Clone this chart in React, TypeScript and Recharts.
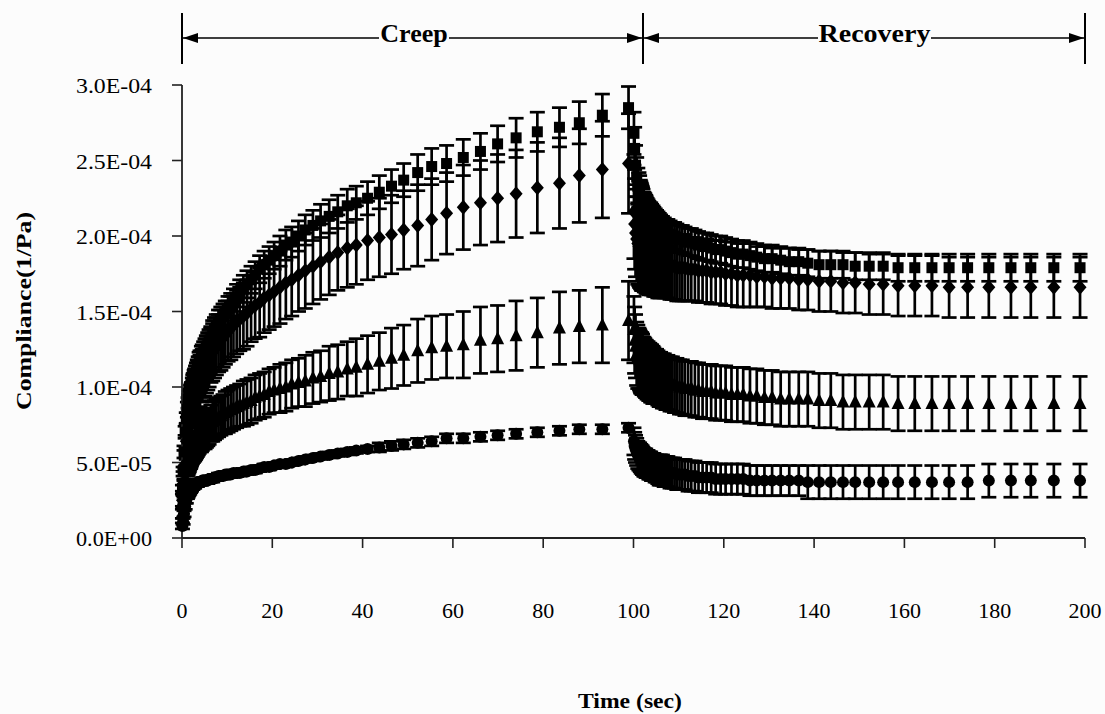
import { ScatterChart, Scatter, XAxis, YAxis, ErrorBar } from 'recharts';

// Sampling times inside each 100 s step (log-spaced acquisition), seconds
const STEP_TIMES = [
  0.1, 0.25, 0.45, 0.7, 0.95, 1.2, 1.35, 1.5, 1.6, 1.7,
  1.8, 1.9, 2.0, 2.1, 2.3, 2.4, 2.5, 2.7, 2.8, 3.0,
  3.2, 3.4, 3.6, 3.8, 4.0, 4.3, 4.5, 4.8, 5.1, 5.4,
  5.7, 6.0, 6.4, 6.8, 7.2, 7.6, 8.1, 8.6, 9.1, 9.6,
  10.2, 10.8, 11.4, 12.1, 12.8, 13.6, 14.4, 15.3, 16.2, 17.2,
  18.2, 19.3, 20.4, 21.7, 23.0, 24.3, 25.8, 27.3, 29.0, 30.7,
  32.6, 34.5, 36.6, 38.6, 41.1, 43.7, 46.4, 49.1, 52.2, 55.3,
  58.6, 62.3, 66.1, 69.9, 74.0, 78.7, 83.6, 88.0, 93.1, 98.9,
];
const RECOVERY_START = 100;

// Compliance, in units of 1E-04 1/Pa (mean and standard deviation)
const SQUARE_CREEP = [
  0.32, 0.44, 0.57, 0.70, 0.79, 0.85, 0.88, 0.90, 0.92, 0.93,
  0.94, 0.96, 0.97, 0.98, 1.00, 1.02, 1.03, 1.05, 1.06, 1.08,
  1.10, 1.12, 1.14, 1.16, 1.17, 1.20, 1.21, 1.23, 1.25, 1.27,
  1.29, 1.31, 1.33, 1.36, 1.38, 1.40, 1.43, 1.45, 1.47, 1.49,
  1.52, 1.54, 1.56, 1.59, 1.62, 1.65, 1.68, 1.71, 1.74, 1.78,
  1.81, 1.84, 1.87, 1.90, 1.94, 1.96, 2.00, 2.04, 2.07, 2.10,
  2.13, 2.16, 2.20, 2.22, 2.25, 2.29, 2.33, 2.37, 2.42, 2.46,
  2.48, 2.52, 2.56, 2.61, 2.65, 2.69, 2.72, 2.75, 2.80, 2.85,
];
const SQUARE_CREEP_SD = [
  0.03, 0.03, 0.04, 0.04, 0.04, 0.05, 0.05, 0.05, 0.05, 0.05,
  0.05, 0.05, 0.05, 0.05, 0.06, 0.06, 0.06, 0.06, 0.06, 0.06,
  0.06, 0.06, 0.06, 0.07, 0.07, 0.07, 0.07, 0.07, 0.07, 0.07,
  0.07, 0.07, 0.07, 0.08, 0.08, 0.08, 0.08, 0.08, 0.08, 0.08,
  0.08, 0.08, 0.09, 0.09, 0.09, 0.09, 0.09, 0.09, 0.09, 0.09,
  0.09, 0.09, 0.09, 0.10, 0.10, 0.10, 0.10, 0.10, 0.10, 0.11,
  0.11, 0.11, 0.11, 0.11, 0.11, 0.11, 0.11, 0.11, 0.12, 0.12,
  0.12, 0.12, 0.12, 0.12, 0.13, 0.13, 0.13, 0.14, 0.14, 0.14,
];
const SQUARE_RECOVERY = [
  2.68, 2.58, 2.47, 2.39, 2.33, 2.30, 2.28, 2.26, 2.25, 2.24,
  2.23, 2.22, 2.21, 2.20, 2.19, 2.18, 2.18, 2.17, 2.16, 2.15,
  2.14, 2.13, 2.12, 2.12, 2.11, 2.10, 2.09, 2.08, 2.07, 2.06,
  2.06, 2.05, 2.04, 2.03, 2.02, 2.02, 2.01, 2.00, 2.00, 1.99,
  1.98, 1.98, 1.97, 1.96, 1.96, 1.95, 1.94, 1.93, 1.93, 1.92,
  1.91, 1.91, 1.90, 1.89, 1.88, 1.88, 1.87, 1.86, 1.85, 1.85,
  1.84, 1.83, 1.83, 1.82, 1.81, 1.81, 1.81, 1.80, 1.80, 1.80,
  1.79, 1.79, 1.79, 1.79, 1.79, 1.79, 1.79, 1.79, 1.79, 1.79,
];
const SQUARE_RECOVERY_SD = [
  0.14, 0.14, 0.13, 0.13, 0.12, 0.12, 0.12, 0.11, 0.11, 0.11,
  0.11, 0.11, 0.11, 0.11, 0.10, 0.10, 0.10, 0.10, 0.10, 0.10,
  0.10, 0.10, 0.10, 0.10, 0.10, 0.10, 0.10, 0.10, 0.10, 0.10,
  0.09, 0.09, 0.09, 0.09, 0.09, 0.09, 0.09, 0.09, 0.09, 0.09,
  0.09, 0.09, 0.09, 0.09, 0.09, 0.09, 0.09, 0.09, 0.09, 0.09,
  0.09, 0.09, 0.09, 0.09, 0.09, 0.09, 0.09, 0.09, 0.09, 0.09,
  0.09, 0.09, 0.09, 0.09, 0.09, 0.09, 0.09, 0.09, 0.09, 0.09,
  0.09, 0.09, 0.09, 0.09, 0.09, 0.09, 0.09, 0.09, 0.09, 0.09,
];

const DIAMOND_CREEP = [
  0.25, 0.36, 0.48, 0.57, 0.64, 0.70, 0.73, 0.76, 0.78, 0.80,
  0.81, 0.83, 0.84, 0.85, 0.88, 0.89, 0.90, 0.92, 0.94, 0.96,
  0.98, 1.00, 1.01, 1.03, 1.04, 1.07, 1.08, 1.10, 1.12, 1.14,
  1.16, 1.18, 1.21, 1.23, 1.25, 1.27, 1.29, 1.31, 1.33, 1.35,
  1.37, 1.39, 1.41, 1.43, 1.45, 1.47, 1.49, 1.52, 1.54, 1.56,
  1.59, 1.61, 1.63, 1.66, 1.69, 1.71, 1.74, 1.77, 1.80, 1.83,
  1.86, 1.89, 1.92, 1.94, 1.97, 1.99, 2.01, 2.04, 2.07, 2.11,
  2.15, 2.19, 2.22, 2.25, 2.28, 2.32, 2.35, 2.40, 2.44, 2.48,
];
const DIAMOND_CREEP_SD = [
  0.06, 0.08, 0.10, 0.11, 0.12, 0.13, 0.13, 0.13, 0.14, 0.14,
  0.14, 0.14, 0.14, 0.15, 0.15, 0.15, 0.15, 0.15, 0.16, 0.16,
  0.16, 0.16, 0.16, 0.17, 0.17, 0.17, 0.17, 0.17, 0.18, 0.18,
  0.18, 0.18, 0.18, 0.19, 0.19, 0.19, 0.19, 0.20, 0.20, 0.20,
  0.20, 0.21, 0.21, 0.21, 0.21, 0.22, 0.22, 0.22, 0.22, 0.23,
  0.23, 0.23, 0.23, 0.24, 0.24, 0.24, 0.24, 0.25, 0.25, 0.25,
  0.25, 0.25, 0.26, 0.26, 0.26, 0.26, 0.26, 0.26, 0.27, 0.27,
  0.27, 0.28, 0.28, 0.29, 0.29, 0.30, 0.30, 0.31, 0.32, 0.33,
];
const DIAMOND_RECOVERY = [
  2.16, 2.08, 2.02, 1.98, 1.95, 1.93, 1.92, 1.91, 1.90, 1.90,
  1.89, 1.89, 1.89, 1.88, 1.88, 1.87, 1.87, 1.87, 1.86, 1.86,
  1.86, 1.85, 1.85, 1.85, 1.84, 1.84, 1.83, 1.83, 1.83, 1.82,
  1.82, 1.82, 1.82, 1.81, 1.81, 1.81, 1.80, 1.80, 1.80, 1.79,
  1.79, 1.79, 1.79, 1.78, 1.78, 1.78, 1.77, 1.77, 1.77, 1.76,
  1.76, 1.76, 1.75, 1.75, 1.74, 1.74, 1.74, 1.73, 1.73, 1.72,
  1.72, 1.72, 1.71, 1.71, 1.70, 1.70, 1.69, 1.69, 1.68, 1.68,
  1.67, 1.67, 1.67, 1.66, 1.66, 1.66, 1.66, 1.66, 1.66, 1.66,
];
const DIAMOND_RECOVERY_SD = [
  0.31, 0.30, 0.29, 0.28, 0.27, 0.26, 0.26, 0.25, 0.25, 0.25,
  0.25, 0.25, 0.25, 0.24, 0.24, 0.24, 0.24, 0.24, 0.24, 0.24,
  0.24, 0.24, 0.23, 0.23, 0.23, 0.23, 0.23, 0.23, 0.23, 0.23,
  0.23, 0.23, 0.22, 0.22, 0.22, 0.22, 0.22, 0.22, 0.22, 0.22,
  0.22, 0.22, 0.22, 0.21, 0.21, 0.21, 0.21, 0.21, 0.21, 0.21,
  0.21, 0.21, 0.21, 0.21, 0.21, 0.21, 0.21, 0.20, 0.20, 0.20,
  0.20, 0.20, 0.20, 0.20, 0.20, 0.20, 0.20, 0.20, 0.20, 0.20,
  0.20, 0.20, 0.20, 0.20, 0.20, 0.20, 0.20, 0.20, 0.20, 0.20,
];

const TRIANGLE_CREEP = [
  0.17, 0.25, 0.33, 0.40, 0.45, 0.49, 0.51, 0.52, 0.53, 0.54,
  0.55, 0.56, 0.57, 0.58, 0.59, 0.60, 0.60, 0.61, 0.62, 0.63,
  0.64, 0.65, 0.66, 0.67, 0.68, 0.69, 0.70, 0.71, 0.71, 0.72,
  0.73, 0.74, 0.76, 0.77, 0.78, 0.79, 0.80, 0.81, 0.82, 0.83,
  0.84, 0.85, 0.86, 0.87, 0.88, 0.89, 0.90, 0.91, 0.93, 0.94,
  0.95, 0.97, 0.98, 0.99, 1.00, 1.02, 1.03, 1.04, 1.06, 1.07,
  1.09, 1.10, 1.12, 1.13, 1.15, 1.17, 1.19, 1.21, 1.24, 1.26,
  1.27, 1.28, 1.31, 1.32, 1.34, 1.36, 1.39, 1.40, 1.41, 1.44,
];
const TRIANGLE_CREEP_SD = [
  0.04, 0.05, 0.06, 0.07, 0.08, 0.08, 0.09, 0.09, 0.09, 0.09,
  0.09, 0.10, 0.10, 0.10, 0.10, 0.10, 0.10, 0.10, 0.11, 0.11,
  0.11, 0.11, 0.11, 0.11, 0.11, 0.12, 0.12, 0.12, 0.12, 0.12,
  0.12, 0.12, 0.12, 0.13, 0.13, 0.13, 0.13, 0.13, 0.13, 0.14,
  0.14, 0.14, 0.14, 0.14, 0.14, 0.15, 0.15, 0.15, 0.15, 0.15,
  0.15, 0.15, 0.15, 0.16, 0.16, 0.16, 0.16, 0.17, 0.17, 0.17,
  0.18, 0.18, 0.18, 0.19, 0.19, 0.19, 0.20, 0.20, 0.21, 0.21,
  0.21, 0.22, 0.22, 0.22, 0.23, 0.23, 0.24, 0.24, 0.25, 0.26,
];
const TRIANGLE_RECOVERY = [
  1.38, 1.31, 1.27, 1.22, 1.20, 1.19, 1.18, 1.17, 1.16, 1.16,
  1.16, 1.15, 1.15, 1.14, 1.14, 1.13, 1.13, 1.12, 1.12, 1.11,
  1.11, 1.10, 1.10, 1.09, 1.09, 1.08, 1.08, 1.07, 1.07, 1.06,
  1.05, 1.05, 1.04, 1.04, 1.03, 1.03, 1.02, 1.02, 1.01, 1.01,
  1.00, 1.00, 0.99, 0.99, 0.99, 0.98, 0.98, 0.97, 0.97, 0.97,
  0.96, 0.96, 0.96, 0.95, 0.95, 0.95, 0.94, 0.94, 0.93, 0.93,
  0.92, 0.92, 0.92, 0.92, 0.91, 0.91, 0.90, 0.90, 0.90, 0.90,
  0.89, 0.89, 0.89, 0.89, 0.89, 0.89, 0.89, 0.89, 0.89, 0.89,
];
const TRIANGLE_RECOVERY_SD = [
  0.22, 0.22, 0.21, 0.21, 0.21, 0.20, 0.20, 0.20, 0.20, 0.20,
  0.20, 0.20, 0.20, 0.19, 0.19, 0.19, 0.19, 0.19, 0.19, 0.19,
  0.19, 0.19, 0.19, 0.19, 0.19, 0.19, 0.18, 0.18, 0.18, 0.18,
  0.18, 0.18, 0.18, 0.18, 0.18, 0.18, 0.18, 0.18, 0.18, 0.18,
  0.18, 0.18, 0.18, 0.18, 0.18, 0.18, 0.18, 0.18, 0.18, 0.18,
  0.18, 0.18, 0.18, 0.18, 0.18, 0.18, 0.18, 0.18, 0.18, 0.18,
  0.18, 0.18, 0.18, 0.18, 0.18, 0.18, 0.18, 0.18, 0.18, 0.18,
  0.18, 0.18, 0.18, 0.18, 0.18, 0.18, 0.18, 0.18, 0.18, 0.18,
];

const CIRCLE_CREEP = [
  0.08, 0.11, 0.16, 0.21, 0.25, 0.28, 0.29, 0.30, 0.31, 0.31,
  0.32, 0.32, 0.33, 0.33, 0.34, 0.34, 0.35, 0.35, 0.35, 0.36,
  0.36, 0.36, 0.37, 0.37, 0.37, 0.37, 0.38, 0.38, 0.38, 0.38,
  0.38, 0.39, 0.39, 0.39, 0.40, 0.40, 0.41, 0.41, 0.41, 0.42,
  0.42, 0.42, 0.43, 0.43, 0.43, 0.44, 0.44, 0.45, 0.45, 0.46,
  0.47, 0.47, 0.48, 0.49, 0.49, 0.50, 0.51, 0.52, 0.53, 0.54,
  0.55, 0.56, 0.57, 0.58, 0.59, 0.60, 0.61, 0.62, 0.63, 0.64,
  0.66, 0.66, 0.67, 0.68, 0.69, 0.70, 0.71, 0.72, 0.72, 0.73,
];
const CIRCLE_CREEP_SD = [
  0.02, 0.02, 0.02, 0.02, 0.02, 0.02, 0.02, 0.02, 0.02, 0.02,
  0.02, 0.02, 0.02, 0.02, 0.02, 0.02, 0.02, 0.02, 0.02, 0.02,
  0.02, 0.02, 0.02, 0.02, 0.02, 0.02, 0.02, 0.02, 0.02, 0.02,
  0.02, 0.02, 0.02, 0.02, 0.02, 0.02, 0.02, 0.02, 0.02, 0.02,
  0.02, 0.02, 0.02, 0.02, 0.02, 0.02, 0.02, 0.02, 0.02, 0.02,
  0.02, 0.02, 0.02, 0.02, 0.02, 0.02, 0.02, 0.02, 0.02, 0.02,
  0.02, 0.02, 0.02, 0.02, 0.02, 0.03, 0.03, 0.03, 0.03, 0.03,
  0.03, 0.03, 0.03, 0.03, 0.03, 0.03, 0.03, 0.03, 0.03, 0.03,
];
const CIRCLE_RECOVERY = [
  0.64, 0.61, 0.59, 0.57, 0.55, 0.54, 0.54, 0.53, 0.53, 0.52,
  0.52, 0.52, 0.51, 0.51, 0.50, 0.50, 0.50, 0.50, 0.49, 0.49,
  0.49, 0.48, 0.48, 0.48, 0.47, 0.47, 0.47, 0.46, 0.46, 0.45,
  0.45, 0.45, 0.45, 0.44, 0.44, 0.44, 0.43, 0.43, 0.43, 0.42,
  0.42, 0.42, 0.42, 0.41, 0.41, 0.41, 0.40, 0.40, 0.40, 0.40,
  0.39, 0.39, 0.39, 0.39, 0.39, 0.39, 0.38, 0.38, 0.38, 0.38,
  0.38, 0.38, 0.38, 0.37, 0.37, 0.37, 0.37, 0.37, 0.37, 0.37,
  0.37, 0.37, 0.37, 0.37, 0.37, 0.38, 0.38, 0.38, 0.38, 0.38,
];
const CIRCLE_RECOVERY_SD = [
  0.09, 0.09, 0.09, 0.09, 0.09, 0.09, 0.09, 0.09, 0.09, 0.09,
  0.09, 0.09, 0.09, 0.09, 0.09, 0.09, 0.09, 0.09, 0.09, 0.09,
  0.09, 0.09, 0.09, 0.09, 0.09, 0.09, 0.09, 0.09, 0.09, 0.09,
  0.10, 0.10, 0.10, 0.10, 0.10, 0.10, 0.10, 0.10, 0.10, 0.10,
  0.10, 0.10, 0.10, 0.10, 0.10, 0.10, 0.10, 0.10, 0.10, 0.10,
  0.10, 0.10, 0.10, 0.10, 0.10, 0.10, 0.10, 0.10, 0.10, 0.10,
  0.10, 0.10, 0.10, 0.11, 0.11, 0.11, 0.11, 0.11, 0.11, 0.11,
  0.11, 0.11, 0.11, 0.11, 0.11, 0.11, 0.11, 0.11, 0.11, 0.11,
];

const X_TICKS = [0, 20, 40, 60, 80, 100, 120, 140, 160, 180, 200];
const Y_TICKS = [0, 0.5, 1, 1.5, 2, 2.5, 3];
const Y_TICK_LABELS = ['0.0E+00', '5.0E-05', '1.0E-04', '1.5E-04', '2.0E-04', '2.5E-04', '3.0E-04'];

const FONT = "'Liberation Serif', 'Times New Roman', serif";
const INK = '#000';

function buildSeries(creep: number[], creepSd: number[], recovery: number[], recoverySd: number[]) {
  return [
    ...STEP_TIMES.map((t, i) => ({ t, c: creep[i], sd: creepSd[i] })),
    ...STEP_TIMES.map((t, i) => ({ t: RECOVERY_START + t, c: recovery[i], sd: recoverySd[i] })),
  ];
}

const squareData = buildSeries(SQUARE_CREEP, SQUARE_CREEP_SD, SQUARE_RECOVERY, SQUARE_RECOVERY_SD);
const diamondData = buildSeries(DIAMOND_CREEP, DIAMOND_CREEP_SD, DIAMOND_RECOVERY, DIAMOND_RECOVERY_SD);
const triangleData = buildSeries(TRIANGLE_CREEP, TRIANGLE_CREEP_SD, TRIANGLE_RECOVERY, TRIANGLE_RECOVERY_SD);
const circleData = buildSeries(CIRCLE_CREEP, CIRCLE_CREEP_SD, CIRCLE_RECOVERY, CIRCLE_RECOVERY_SD);

// marker shapes
const SquareMark = (p: any) => <rect x={p.cx - 5.5} y={p.cy - 5.5} width={11} height={11} fill={INK} />;
const DiamondMark = (p: any) => (
  <polygon
    points={`${p.cx},${p.cy - 7.5} ${p.cx + 6.5},${p.cy} ${p.cx},${p.cy + 7.5} ${p.cx - 6.5},${p.cy}`}
    fill={INK}
  />
);
const TriangleMark = (p: any) => (
  <polygon points={`${p.cx},${p.cy - 7.5} ${p.cx + 6.5},${p.cy + 5.5} ${p.cx - 6.5},${p.cy + 5.5}`} fill={INK} />
);
const CircleMark = (p: any) => <circle cx={p.cx} cy={p.cy} r={6} fill={INK} />;

const XTick = ({ x, y, payload }: any) => (
  <text x={x} y={y + 70} textAnchor="middle" fontFamily={FONT} fontSize={22} fill={INK}>
    {payload.value}
  </text>
);

const YTick = ({ x, y, payload }: any) => {
  const idx = Y_TICKS.indexOf(payload.value);
  return (
    <text
      x={x - 20}
      y={y + 8}
      textAnchor="end"
      fontFamily={FONT}
      fontSize={22}
      fill={INK}
      textLength={76}
      lengthAdjust="spacingAndGlyphs"
    >
      {Y_TICK_LABELS[idx]}
    </text>
  );
};

const errProps = { dataKey: 'sd', direction: 'y' as const, width: 7.5, stroke: INK, strokeWidth: 2.7, isAnimationActive: false };

// phase brackets drawn above the plot
function PhaseBrackets() {
  const y = 38;
  const left = 182;
  const mid = 643;
  const right = 1085;
  return (
    <svg width={1105} height={80} style={{ position: 'absolute', left: 0, top: 0, pointerEvents: 'none' }}>
      <g stroke={INK} strokeWidth={2}>
        <line x1={left} y1={13} x2={left} y2={64} />
        <line x1={mid} y1={13} x2={mid} y2={64} />
        <line x1={right} y1={13} x2={right} y2={64} />
        <line x1={left} y1={y} x2={379} y2={y} strokeWidth={1.6} />
        <line x1={449} y1={y} x2={mid} y2={y} strokeWidth={1.6} />
        <line x1={mid} y1={y} x2={818} y2={y} strokeWidth={1.6} />
        <line x1={931} y1={y} x2={right} y2={y} strokeWidth={1.6} />
      </g>
      <g fill={INK}>
        <polygon points={`${left + 1},${y} ${left + 16},${y - 5} ${left + 16},${y + 5}`} />
        <polygon points={`${mid - 1},${y} ${mid - 16},${y - 5} ${mid - 16},${y + 5}`} />
        <polygon points={`${mid + 1},${y} ${mid + 16},${y - 5} ${mid + 16},${y + 5}`} />
        <polygon points={`${right - 1},${y} ${right - 16},${y - 5} ${right - 16},${y + 5}`} />
      </g>
      <text x={414} y={42} textAnchor="middle" fontFamily={FONT} fontWeight="bold" fontSize={26} fill={INK}>
        Creep
      </text>
      <text
        x={874.5}
        y={42}
        textAnchor="middle"
        fontFamily={FONT}
        fontWeight="bold"
        fontSize={26}
        fill={INK}
        textLength={112}
        lengthAdjust="spacingAndGlyphs"
      >
        Recovery
      </text>
    </svg>
  );
}

export default function App() {
  return (
    <div style={{ position: 'absolute', left: 0, top: 0, width: 1105, height: 714, background: '#fcfcfc' }}>
      <ScatterChart width={1105} height={714} margin={{ top: 85, right: 20, bottom: 76, left: 0 }}>
        <XAxis
          type="number"
          dataKey="t"
          domain={[0, 200]}
          ticks={X_TICKS}
          height={100}
          tickSize={10}
          tickMargin={0}
          tick={<XTick />}
          axisLine={{ stroke: '#222', strokeWidth: 1.8 }}
          tickLine={{ stroke: '#222', strokeWidth: 1.6 }}
        />
        <YAxis
          type="number"
          dataKey="c"
          domain={[0, 3]}
          ticks={Y_TICKS}
          width={182}
          tickSize={10}
          tickMargin={0}
          tick={<YTick />}
          axisLine={{ stroke: '#222', strokeWidth: 1.8 }}
          tickLine={{ stroke: '#222', strokeWidth: 1.6 }}
        />
        <Scatter data={circleData} shape={CircleMark} isAnimationActive={false}>
          <ErrorBar {...errProps} />
        </Scatter>
        <Scatter data={triangleData} shape={TriangleMark} isAnimationActive={false}>
          <ErrorBar {...errProps} />
        </Scatter>
        <Scatter data={diamondData} shape={DiamondMark} isAnimationActive={false}>
          <ErrorBar {...errProps} />
        </Scatter>
        <Scatter data={squareData} shape={SquareMark} isAnimationActive={false}>
          <ErrorBar {...errProps} />
        </Scatter>
      </ScatterChart>
      <PhaseBrackets />
      <svg width={1105} height={714} style={{ position: 'absolute', left: 0, top: 0, pointerEvents: 'none' }}>
        <text
          transform="translate(31, 311) rotate(-90)"
          textAnchor="middle"
          fontFamily={FONT}
          fontWeight="bold"
          fontSize={22}
          fill={INK}
          textLength={198}
          lengthAdjust="spacingAndGlyphs"
        >
          Compliance(1/Pa)
        </text>
        <text
          x={630}
          y={708}
          textAnchor="middle"
          fontFamily={FONT}
          fontWeight="bold"
          fontSize={22}
          fill={INK}
          textLength={104}
          lengthAdjust="spacingAndGlyphs"
        >
          Time (sec)
        </text>
      </svg>
    </div>
  );
}
